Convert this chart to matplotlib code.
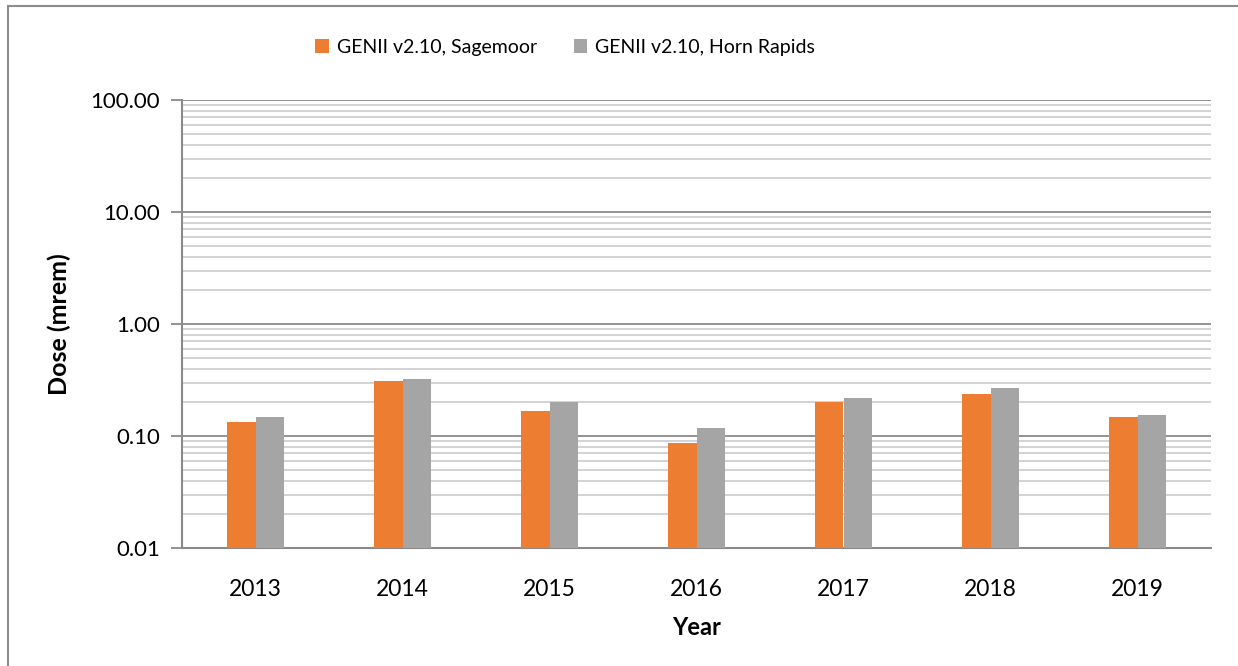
import matplotlib.pyplot as plt
import numpy as np
from matplotlib.patches import Rectangle
from matplotlib.ticker import FixedLocator, LogLocator, NullFormatter

plt.rcParams['font.family'] = ['Lato', 'DejaVu Sans']

# dose values (mrem)
years = ["2013", "2014", "2015", "2016", "2017", "2018", "2019"]
sagemoor = [0.134, 0.31, 0.168, 0.087, 0.20, 0.239, 0.147]
horn_rapids = [0.147, 0.325, 0.20, 0.118, 0.218, 0.27, 0.154]
yticks = [0.01, 0.1, 1, 10, 100]

fig = plt.figure(figsize=(12.38, 6.66), dpi=100)
ax = fig.add_axes([182/1238, 118/666, 1029/1238, 448/666])

# outer frame (only top and left visible in the crop)
fig.patches.append(Rectangle((8/1238, -0.1), 1.2, 1.1 - 6/666, transform=fig.transFigure,
                             fill=False, edgecolor="#8c8c8c", linewidth=1.5, zorder=0))

x = np.arange(len(years))
w = 0.195
ax.bar(x - w/2, sagemoor, w, color="#ed7d31", label="GENII v2.10, Sagemoor", zorder=3)
ax.bar(x + w/2, horn_rapids, w, color="#a5a5a5", label="GENII v2.10, Horn Rapids", zorder=3)

ax.set_yscale("log")
ax.set_ylim(0.01, 100)
ax.set_xlim(-0.5, len(years) - 0.5)
ax.yaxis.set_major_locator(FixedLocator(yticks))
ax.set_yticklabels([f"{v:.2f}" for v in yticks])
ax.yaxis.set_minor_locator(LogLocator(base=10, subs=np.arange(2, 10)))
ax.yaxis.set_minor_formatter(NullFormatter())
ax.grid(which="major", axis="y", color="#8a8a8a", linewidth=1.3, zorder=1)
ax.grid(which="minor", axis="y", color="#d0d0d0", linewidth=1.3, zorder=1)

ax.set_xticks(x)
ax.set_xticklabels(years)
ax.tick_params(axis="x", length=0, labelsize=16.5, pad=22)
ax.tick_params(axis="y", which="major", length=8, color="#8a8a8a", width=1.3, labelsize=16, pad=8)
ax.tick_params(axis="y", which="minor", length=0)

for s in ["top", "right"]:
    ax.spines[s].set_visible(False)
for s in ["left", "bottom"]:
    ax.spines[s].set_color("#8a8a8a")
    ax.spines[s].set_linewidth(1.5)

ax.set_ylabel("Dose (mrem)", fontsize=18, fontweight="bold", labelpad=14)
ax.set_xlabel("Year", fontsize=17, fontweight="bold", labelpad=12)

fig.legend(loc="center", bbox_to_anchor=(565/1238, 1 - 47/666), ncol=2, frameon=False,
           fontsize=14, handlelength=0.7, handleheight=0.7, handletextpad=0.4, columnspacing=1.9)

fig.savefig("out.png", dpi=100)
